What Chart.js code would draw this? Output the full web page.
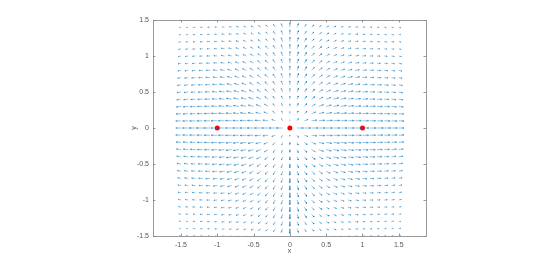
<!DOCTYPE html>
<html>
<head>
<meta charset="utf-8">
<script src="https://cdn.jsdelivr.net/npm/chart.js@4.4.0/dist/chart.umd.min.js"></script>
<style>
  html, body { margin: 0; padding: 0; background: #fff; }
  #wrap { width: 560px; height: 267px; }
</style>
</head>
<body>
<div id="wrap"><canvas id="quiver" width="560" height="267"></canvas></div>
<script>
/* ── Data ──────────────────────────────────────────────────────────────── */
const xs = [-1.5,-1.4,-1.3,-1.2,-1.1,-1,-0.9,-0.8,-0.7,-0.6,-0.5,-0.4,-0.3,-0.2,-0.1,0,0.1,0.2,0.3,0.4,0.5,0.6,0.7,0.8,0.9,1,1.1,1.2,1.3,1.4,1.5];
const ys = [-1.5,-1.4,-1.3,-1.2,-1.1,-1,-0.9,-0.8,-0.7,-0.6,-0.5,-0.4,-0.3,-0.2,-0.1,0,0.1,0.2,0.3,0.4,0.5,0.6,0.7,0.8,0.9,1,1.1,1.2,1.3,1.4,1.5];

// horizontal component, one row per ys value (bottom to top)
const U = [
  [-2.5,-2.6,-2.8,-3,-3.2,-3.3,-3.4,-3.5,-3.5,-3.5,-3.5,-3.4,-3.1,-2.7,-2,0,2,2.7,3.1,3.4,3.5,3.5,3.5,3.5,3.4,3.3,3.2,3,2.8,2.6,2.5],
  [-2.7,-2.9,-3.1,-3.3,-3.5,-3.6,-3.7,-3.8,-3.8,-3.8,-3.7,-3.6,-3.3,-2.8,-2,0,2,2.8,3.3,3.6,3.7,3.8,3.8,3.8,3.7,3.6,3.5,3.3,3.1,2.9,2.7],
  [-3,-3.2,-3.4,-3.6,-3.8,-4,-4.1,-4.1,-4.1,-4.1,-4,-3.8,-3.4,-2.9,-2,0,2,2.9,3.4,3.8,4,4.1,4.1,4.1,4.1,4,3.8,3.6,3.4,3.2,3],
  [-3.3,-3.5,-3.8,-4,-4.2,-4.4,-4.5,-4.5,-4.5,-4.4,-4.3,-4,-3.6,-3,-2,0,2,3,3.6,4,4.3,4.4,4.5,4.5,4.5,4.4,4.2,4,3.8,3.5,3.3],
  [-3.6,-3.9,-4.2,-4.4,-4.6,-4.8,-4.9,-4.9,-4.9,-4.8,-4.6,-4.3,-3.8,-3.1,-2,0,2,3.1,3.8,4.3,4.6,4.8,4.9,4.9,4.9,4.8,4.6,4.4,4.2,3.9,3.6],
  [-4,-4.3,-4.6,-4.8,-5,-5.2,-5.3,-5.3,-5.3,-5.1,-4.9,-4.5,-4,-3.2,-2,0,2,3.2,4,4.5,4.9,5.1,5.3,5.3,5.3,5.2,5,4.8,4.6,4.3,4],
  [-4.4,-4.7,-5,-5.3,-5.5,-5.7,-5.8,-5.8,-5.7,-5.5,-5.2,-4.8,-4.2,-3.3,-2,0,2,3.3,4.2,4.8,5.2,5.5,5.7,5.8,5.8,5.7,5.5,5.3,5,4.7,4.4],
  [-4.8,-5.1,-5.5,-5.8,-6,-6.2,-6.3,-6.3,-6.2,-5.9,-5.5,-5,-4.4,-3.4,-2,0,2,3.4,4.4,5,5.5,5.9,6.2,6.3,6.3,6.2,6,5.8,5.5,5.1,4.8],
  [-5.1,-5.5,-5.9,-6.2,-6.5,-6.7,-6.8,-6.8,-6.6,-6.3,-5.8,-5.2,-4.5,-3.5,-2,0,2,3.5,4.5,5.2,5.8,6.3,6.6,6.8,6.8,6.7,6.5,6.2,5.9,5.5,5.1],
  [-5.5,-5.9,-6.3,-6.7,-7,-7.2,-7.4,-7.4,-7.2,-6.8,-6.2,-5.5,-4.6,-3.5,-2,0,2,3.5,4.6,5.5,6.2,6.8,7.2,7.4,7.4,7.2,7,6.7,6.3,5.9,5.5],
  [-6,-6.4,-6.8,-7.2,-7.5,-7.8,-8,-8,-7.8,-7.4,-6.7,-5.8,-4.8,-3.5,-2,0,2,3.5,4.8,5.8,6.7,7.4,7.8,8,8,7.8,7.5,7.2,6.8,6.4,6],
  [-6.5,-7,-7.3,-7.7,-8,-8.2,-8.4,-8.4,-8.3,-8,-7.3,-6.3,-5,-3.5,-1.8,0,1.8,3.5,5,6.3,7.3,8,8.3,8.4,8.4,8.2,8,7.7,7.3,7,6.5],
  [-7,-7.5,-8,-8.2,-8.5,-8.7,-8.8,-8.8,-8.7,-8.5,-8,-7,-5.5,-3.5,-1.6,0,1.6,3.5,5.5,7,8,8.5,8.7,8.8,8.8,8.7,8.5,8.2,8,7.5,7],
  [-7.5,-8,-8.3,-8.5,-8.8,-9,-9,-9,-9,-9,-8.5,-7.8,-6.5,-4,-1.5,0,1.5,4,6.5,7.8,8.5,9,9,9,9,9,8.8,8.5,8.3,8,7.5],
  [-8,-8.5,-9,-9,-9,-9.5,-9.5,-9.5,-9.5,-9.5,-9.5,-9,-8,-5.5,-2,0,2,5.5,8,9,9.5,9.5,9.5,9.5,9.5,9.5,9,9,9,8.5,8],
  [-8,-9,-10,-10,-10,-10,-10,-10,-10,-10,-10,-10,-10,-10,-10,0,10,10,10,10,10,10,10,10,10,10,10,10,10,9,8],
  [-8,-8.5,-9,-9,-9,-9.5,-9.5,-9.5,-9.5,-9.5,-9.5,-9,-8,-5.5,-2,0,2,5.5,8,9,9.5,9.5,9.5,9.5,9.5,9.5,9,9,9,8.5,8],
  [-7.5,-8,-8.3,-8.5,-8.8,-9,-9,-9,-9,-9,-8.5,-7.8,-6.5,-4,-1.5,0,1.5,4,6.5,7.8,8.5,9,9,9,9,9,8.8,8.5,8.3,8,7.5],
  [-7,-7.5,-8,-8.2,-8.5,-8.7,-8.8,-8.8,-8.7,-8.5,-8,-7,-5.5,-3.5,-1.6,0,1.6,3.5,5.5,7,8,8.5,8.7,8.8,8.8,8.7,8.5,8.2,8,7.5,7],
  [-6.5,-7,-7.3,-7.7,-8,-8.2,-8.4,-8.4,-8.3,-8,-7.3,-6.3,-5,-3.5,-1.8,0,1.8,3.5,5,6.3,7.3,8,8.3,8.4,8.4,8.2,8,7.7,7.3,7,6.5],
  [-6,-6.4,-6.8,-7.2,-7.5,-7.8,-8,-8,-7.8,-7.4,-6.7,-5.8,-4.8,-3.5,-2,0,2,3.5,4.8,5.8,6.7,7.4,7.8,8,8,7.8,7.5,7.2,6.8,6.4,6],
  [-5.5,-5.9,-6.3,-6.7,-7,-7.2,-7.4,-7.4,-7.2,-6.8,-6.2,-5.5,-4.6,-3.5,-2,0,2,3.5,4.6,5.5,6.2,6.8,7.2,7.4,7.4,7.2,7,6.7,6.3,5.9,5.5],
  [-5.1,-5.5,-5.9,-6.2,-6.5,-6.7,-6.8,-6.8,-6.6,-6.3,-5.8,-5.2,-4.5,-3.5,-2,0,2,3.5,4.5,5.2,5.8,6.3,6.6,6.8,6.8,6.7,6.5,6.2,5.9,5.5,5.1],
  [-4.8,-5.1,-5.5,-5.8,-6,-6.2,-6.3,-6.3,-6.2,-5.9,-5.5,-5,-4.4,-3.4,-2,0,2,3.4,4.4,5,5.5,5.9,6.2,6.3,6.3,6.2,6,5.8,5.5,5.1,4.8],
  [-4.4,-4.7,-5,-5.3,-5.5,-5.7,-5.8,-5.8,-5.7,-5.5,-5.2,-4.8,-4.2,-3.3,-2,0,2,3.3,4.2,4.8,5.2,5.5,5.7,5.8,5.8,5.7,5.5,5.3,5,4.7,4.4],
  [-4,-4.3,-4.6,-4.8,-5,-5.2,-5.3,-5.3,-5.3,-5.1,-4.9,-4.5,-4,-3.2,-2,0,2,3.2,4,4.5,4.9,5.1,5.3,5.3,5.3,5.2,5,4.8,4.6,4.3,4],
  [-3.6,-3.9,-4.2,-4.4,-4.6,-4.8,-4.9,-4.9,-4.9,-4.8,-4.6,-4.3,-3.8,-3.1,-2,0,2,3.1,3.8,4.3,4.6,4.8,4.9,4.9,4.9,4.8,4.6,4.4,4.2,3.9,3.6],
  [-3.3,-3.5,-3.8,-4,-4.2,-4.4,-4.5,-4.5,-4.5,-4.4,-4.3,-4,-3.6,-3,-2,0,2,3,3.6,4,4.3,4.4,4.5,4.5,4.5,4.4,4.2,4,3.8,3.5,3.3],
  [-3,-3.2,-3.4,-3.6,-3.8,-4,-4.1,-4.1,-4.1,-4.1,-4,-3.8,-3.4,-2.9,-2,0,2,2.9,3.4,3.8,4,4.1,4.1,4.1,4.1,4,3.8,3.6,3.4,3.2,3],
  [-2.7,-2.9,-3.1,-3.3,-3.5,-3.6,-3.7,-3.8,-3.8,-3.8,-3.7,-3.6,-3.3,-2.8,-2,0,2,2.8,3.3,3.6,3.7,3.8,3.8,3.8,3.7,3.6,3.5,3.3,3.1,2.9,2.7],
  [-2.5,-2.6,-2.8,-3,-3.2,-3.3,-3.4,-3.5,-3.5,-3.5,-3.5,-3.4,-3.1,-2.7,-2,0,2,2.7,3.1,3.4,3.5,3.5,3.5,3.5,3.4,3.3,3.2,3,2.8,2.6,2.5]
];

// vertical component, same layout
const V = [
  [0.7,0.6,0.4,0.3,0,-0.2,-0.4,-0.7,-1,-1.3,-1.7,-2.3,-3.1,-4.1,-5.2,-7,-5.2,-4.1,-3.1,-2.3,-1.7,-1.3,-1,-0.7,-0.4,-0.2,0,0.3,0.4,0.6,0.7],
  [0.8,0.6,0.5,0.3,0,-0.2,-0.5,-0.8,-1.1,-1.5,-1.9,-2.5,-3.4,-4.4,-5.5,-7,-5.5,-4.4,-3.4,-2.5,-1.9,-1.5,-1.1,-0.8,-0.5,-0.2,0,0.3,0.5,0.6,0.8],
  [0.8,0.7,0.5,0.3,0,-0.3,-0.6,-0.9,-1.2,-1.7,-2.2,-2.8,-3.7,-4.7,-5.8,-7,-5.8,-4.7,-3.7,-2.8,-2.2,-1.7,-1.2,-0.9,-0.6,-0.3,0,0.3,0.5,0.7,0.8],
  [0.9,0.7,0.5,0.3,0,-0.3,-0.7,-1,-1.4,-1.9,-2.4,-3.1,-4,-5,-6,-7,-6,-5,-4,-3.1,-2.4,-1.9,-1.4,-1,-0.7,-0.3,0,0.3,0.5,0.7,0.9],
  [0.9,0.7,0.5,0.2,-0.1,-0.4,-0.8,-1.2,-1.6,-2.1,-2.7,-3.4,-4.3,-5.2,-6.2,-7,-6.2,-5.2,-4.3,-3.4,-2.7,-2.1,-1.6,-1.2,-0.8,-0.4,-0.1,0.2,0.5,0.7,0.9],
  [1,0.8,0.5,0.2,-0.1,-0.5,-0.9,-1.3,-1.8,-2.3,-2.9,-3.6,-4.5,-5.4,-6.3,-7,-6.3,-5.4,-4.5,-3.6,-2.9,-2.3,-1.8,-1.3,-0.9,-0.5,-0.1,0.2,0.5,0.8,1],
  [1,0.8,0.5,0.2,-0.2,-0.6,-1,-1.5,-2,-2.5,-3.1,-3.8,-4.7,-5.5,-6.3,-7,-6.3,-5.5,-4.7,-3.8,-3.1,-2.5,-2,-1.5,-1,-0.6,-0.2,0.2,0.5,0.8,1],
  [1,0.8,0.5,0.1,-0.3,-0.7,-1.1,-1.6,-2.1,-2.7,-3.3,-4,-4.8,-5.6,-6.3,-6.8,-6.3,-5.6,-4.8,-4,-3.3,-2.7,-2.1,-1.6,-1.1,-0.7,-0.3,0.1,0.5,0.8,1],
  [1,0.8,0.5,0.1,-0.3,-0.7,-1.1,-1.6,-2.1,-2.7,-3.3,-4,-4.8,-5.5,-6.2,-6.5,-6.2,-5.5,-4.8,-4,-3.3,-2.7,-2.1,-1.6,-1.1,-0.7,-0.3,0.1,0.5,0.8,1],
  [1,0.8,0.5,0.1,-0.3,-0.7,-1.1,-1.6,-2.1,-2.6,-3.2,-3.9,-4.6,-5.3,-6,-6,-6,-5.3,-4.6,-3.9,-3.2,-2.6,-2.1,-1.6,-1.1,-0.7,-0.3,0.1,0.5,0.8,1],
  [1,0.8,0.5,0.2,-0.2,-0.6,-1,-1.5,-1.9,-2.4,-3,-3.6,-4.3,-5,-5.5,-5.5,-5.5,-5,-4.3,-3.6,-3,-2.4,-1.9,-1.5,-1,-0.6,-0.2,0.2,0.5,0.8,1],
  [1,0.8,0.5,0.2,-0.2,-0.6,-0.9,-1.3,-1.7,-2.1,-2.6,-3.2,-4,-4.6,-5,-4.8,-5,-4.6,-4,-3.2,-2.6,-2.1,-1.7,-1.3,-0.9,-0.6,-0.2,0.2,0.5,0.8,1],
  [0.9,0.7,0.4,0.1,-0.2,-0.5,-0.8,-1.1,-1.4,-1.7,-2,-2.6,-3.4,-4.2,-4.5,-4,-4.5,-4.2,-3.4,-2.6,-2,-1.7,-1.4,-1.1,-0.8,-0.5,-0.2,0.1,0.4,0.7,0.9],
  [0.7,0.5,0.3,0,-0.2,-0.4,-0.6,-0.8,-1,-1.2,-1.4,-1.8,-2.5,-3.5,-4,-3,-4,-3.5,-2.5,-1.8,-1.4,-1.2,-1,-0.8,-0.6,-0.4,-0.2,0,0.3,0.5,0.7],
  [0.4,0.3,0.2,0.1,0,-0.1,-0.2,-0.3,-0.4,-0.5,-0.6,-0.8,-1,-2,-3.5,-1.5,-3.5,-2,-1,-0.8,-0.6,-0.5,-0.4,-0.3,-0.2,-0.1,0,0.1,0.2,0.3,0.4],
  [0,0,0,0,0,0,0,0,0,0,0,0,0,0,0,0,0,0,0,0,0,0,0,0,0,0,0,0,0,0,0],
  [-0.4,-0.3,-0.2,-0.1,0,0.1,0.2,0.3,0.4,0.5,0.6,0.8,1,2,3.5,1.5,3.5,2,1,0.8,0.6,0.5,0.4,0.3,0.2,0.1,0,-0.1,-0.2,-0.3,-0.4],
  [-0.7,-0.5,-0.3,0,0.2,0.4,0.6,0.8,1,1.2,1.4,1.8,2.5,3.5,4,3,4,3.5,2.5,1.8,1.4,1.2,1,0.8,0.6,0.4,0.2,0,-0.3,-0.5,-0.7],
  [-0.9,-0.7,-0.4,-0.1,0.2,0.5,0.8,1.1,1.4,1.7,2,2.6,3.4,4.2,4.5,4,4.5,4.2,3.4,2.6,2,1.7,1.4,1.1,0.8,0.5,0.2,-0.1,-0.4,-0.7,-0.9],
  [-1,-0.8,-0.5,-0.2,0.2,0.6,0.9,1.3,1.7,2.1,2.6,3.2,4,4.6,5,4.8,5,4.6,4,3.2,2.6,2.1,1.7,1.3,0.9,0.6,0.2,-0.2,-0.5,-0.8,-1],
  [-1,-0.8,-0.5,-0.2,0.2,0.6,1,1.5,1.9,2.4,3,3.6,4.3,5,5.5,5.5,5.5,5,4.3,3.6,3,2.4,1.9,1.5,1,0.6,0.2,-0.2,-0.5,-0.8,-1],
  [-1,-0.8,-0.5,-0.1,0.3,0.7,1.1,1.6,2.1,2.6,3.2,3.9,4.6,5.3,6,6,6,5.3,4.6,3.9,3.2,2.6,2.1,1.6,1.1,0.7,0.3,-0.1,-0.5,-0.8,-1],
  [-1,-0.8,-0.5,-0.1,0.3,0.7,1.1,1.6,2.1,2.7,3.3,4,4.8,5.5,6.2,6.5,6.2,5.5,4.8,4,3.3,2.7,2.1,1.6,1.1,0.7,0.3,-0.1,-0.5,-0.8,-1],
  [-1,-0.8,-0.5,-0.1,0.3,0.7,1.1,1.6,2.1,2.7,3.3,4,4.8,5.6,6.3,6.8,6.3,5.6,4.8,4,3.3,2.7,2.1,1.6,1.1,0.7,0.3,-0.1,-0.5,-0.8,-1],
  [-1,-0.8,-0.5,-0.2,0.2,0.6,1,1.5,2,2.5,3.1,3.8,4.7,5.5,6.3,7,6.3,5.5,4.7,3.8,3.1,2.5,2,1.5,1,0.6,0.2,-0.2,-0.5,-0.8,-1],
  [-1,-0.8,-0.5,-0.2,0.1,0.5,0.9,1.3,1.8,2.3,2.9,3.6,4.5,5.4,6.3,7,6.3,5.4,4.5,3.6,2.9,2.3,1.8,1.3,0.9,0.5,0.1,-0.2,-0.5,-0.8,-1],
  [-0.9,-0.7,-0.5,-0.2,0.1,0.4,0.8,1.2,1.6,2.1,2.7,3.4,4.3,5.2,6.2,7,6.2,5.2,4.3,3.4,2.7,2.1,1.6,1.2,0.8,0.4,0.1,-0.2,-0.5,-0.7,-0.9],
  [-0.9,-0.7,-0.5,-0.3,0,0.3,0.7,1,1.4,1.9,2.4,3.1,4,5,6,7,6,5,4,3.1,2.4,1.9,1.4,1,0.7,0.3,0,-0.3,-0.5,-0.7,-0.9],
  [-0.8,-0.7,-0.5,-0.3,0,0.3,0.6,0.9,1.2,1.7,2.2,2.8,3.7,4.7,5.8,7,5.8,4.7,3.7,2.8,2.2,1.7,1.2,0.9,0.6,0.3,0,-0.3,-0.5,-0.7,-0.8],
  [-0.8,-0.6,-0.5,-0.3,0,0.2,0.5,0.8,1.1,1.5,1.9,2.5,3.4,4.4,5.5,7,5.5,4.4,3.4,2.5,1.9,1.5,1.1,0.8,0.5,0.2,0,-0.3,-0.5,-0.6,-0.8],
  [-0.7,-0.6,-0.4,-0.3,0,0.2,0.4,0.7,1,1.3,1.7,2.3,3.1,4.1,5.2,7,5.2,4.1,3.1,2.3,1.7,1.3,1,0.7,0.4,0.2,0,-0.3,-0.4,-0.6,-0.7]
];

const dotX = [-1, 0, 1];
const dotY = [0, 0, 0];

const xTicks = [-1.5, -1, -0.5, 0, 0.5, 1, 1.5];
const yTicks = [-1.5, -1, -0.5, 0, 0.5, 1, 1.5];

/* ── Quiver geometry (matlab style arrow heads) ─────────────────────────── */
const SCALE = 0.009;
const ALPHA = 0.33, BETA = 0.33;

function quiverPoints() {
  const pts = [];
  ys.forEach((y, r) => {
    xs.forEach((x, c) => {
      const u = U[r][c] * SCALE, v = V[r][c] * SCALE;
      if (u === 0 && v === 0) return;
      const hx = x + u, hy = y + v;
      pts.push({ x, y }, { x: hx, y: hy }, { x: hx, y: null });
      pts.push(
        { x: hx - ALPHA * (u + BETA * v), y: hy - ALPHA * (v - BETA * u) },
        { x: hx, y: hy },
        { x: hx - ALPHA * (u - BETA * v), y: hy - ALPHA * (v + BETA * u) },
        { x: hx, y: null }
      );
    });
  });
  return pts;
}

/* ── Axes box, inward ticks, axis labels ───────────────────────────────── */
const axesFrame = {
  id: 'axesFrame',
  afterDraw(chart) {
    const { ctx, chartArea: a, scales } = chart;
    ctx.save();
    ctx.strokeStyle = '#808080';
    ctx.lineWidth = 0.8;
    ctx.strokeRect(a.left + 0.5, a.top + 0.5, a.right - a.left, a.bottom - a.top);
    const tl = 2.5;
    ctx.beginPath();
    xTicks.forEach(t => {
      const px = Math.round(scales.x.getPixelForValue(t)) + 0.5;
      ctx.moveTo(px, a.bottom); ctx.lineTo(px, a.bottom - tl);
      ctx.moveTo(px, a.top); ctx.lineTo(px, a.top + tl);
    });
    yTicks.forEach(t => {
      const py = Math.round(scales.y.getPixelForValue(t)) + 0.5;
      ctx.moveTo(a.left, py); ctx.lineTo(a.left + tl, py);
      ctx.moveTo(a.right, py); ctx.lineTo(a.right - tl, py);
    });
    ctx.stroke();

    ctx.fillStyle = '#555';
    ctx.font = '7px "Liberation Sans", Arial, sans-serif';
    ctx.textAlign = 'center';
    ctx.textBaseline = 'middle';
    ctx.fillText('x', (a.left + a.right) / 2, 251);
    ctx.translate(134, (a.top + a.bottom) / 2);
    ctx.rotate(-Math.PI / 2);
    ctx.fillText('y', 0, 0);
    ctx.restore();
  }
};

/* ── Chart ─────────────────────────────────────────────────────────────── */
const tickFont = { family: '"Liberation Sans", Arial, sans-serif', size: 7 };

new Chart(document.getElementById('quiver'), {
  type: 'scatter',
  data: {
    datasets: [
      {
        data: quiverPoints(),
        showLine: true,
        spanGaps: false,
        borderColor: 'rgba(0, 114, 189, 0.72)',
        borderWidth: 0.6,
        pointRadius: 0,
        pointHoverRadius: 0,
      },
      {
        data: dotX.map((x, i) => ({ x, y: dotY[i] })),
        pointRadius: 2.5,
        pointBackgroundColor: '#ff0000',
        pointBorderColor: '#ff0000',
        pointBorderWidth: 0,
      },
    ],
  },
  options: {
    responsive: false,
    animation: false,
    devicePixelRatio: 1,
    events: [],
    layout: { padding: { left: 0, right: 134, top: 20, bottom: 0 } },
    plugins: { legend: { display: false }, tooltip: { enabled: false } },
    scales: {
      x: {
        type: 'linear',
        min: -1.885,
        max: 1.875,
        afterBuildTicks: s => { s.ticks = xTicks.map(value => ({ value })); },
        afterFit: s => { s.height = 31; },
        grid: { display: false, drawTicks: false },
        border: { display: false },
        ticks: { font: tickFont, color: '#555', padding: 5, maxRotation: 0, callback: v => String(v) },
      },
      y: {
        type: 'linear',
        min: -1.5,
        max: 1.5,
        afterBuildTicks: s => { s.ticks = yTicks.map(value => ({ value })); },
        afterFit: s => { s.width = 153; },
        grid: { display: false, drawTicks: false },
        border: { display: false },
        ticks: { font: tickFont, color: '#555', padding: 4, callback: v => String(v) },
      },
    },
  },
  plugins: [axesFrame],
});
</script>
</body>
</html>
